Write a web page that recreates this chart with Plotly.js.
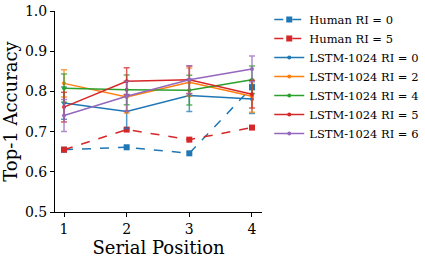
<!DOCTYPE html>
<html>
<head>
<meta charset="utf-8">
<script src="https://cdn.plot.ly/plotly-3.0.1.min.js"></script>
<style>html,body{margin:0;padding:0;background:#fff;}#chart{width:425px;height:259px;}</style>
</head>
<body>
<div id="chart"></div>
<script>
const positions = [1, 2, 3, 4];

const humanRI0 = [0.655, 0.661, 0.646, 0.810];
const humanRI5 = [0.655, 0.705, 0.680, 0.710];

const lstmRI0 = [0.771, 0.750, 0.790, 0.781];
const lstmRI0Err = [0.040, 0.042, 0.040, 0.036];
const lstmRI2 = [0.820, 0.786, 0.823, 0.788];
const lstmRI2Err = [0.034, 0.040, 0.035, 0.040];
const lstmRI4 = [0.808, 0.804, 0.803, 0.829];
const lstmRI4Err = [0.035, 0.037, 0.037, 0.034];
const lstmRI5 = [0.761, 0.825, 0.829, 0.793];
const lstmRI5Err = [0.037, 0.034, 0.034, 0.034];
const lstmRI6 = [0.740, 0.788, 0.829, 0.856];
const lstmRI6Err = [0.040, 0.037, 0.035, 0.032];

const seriesNames = ['Human RI = 0', 'Human RI = 5', 'LSTM-1024 RI = 0', 'LSTM-1024 RI = 2', 'LSTM-1024 RI = 4', 'LSTM-1024 RI = 5', 'LSTM-1024 RI = 6'];

const C = {blue:'#1f77b4', orange:'#ff7f0e', green:'#2ca02c', red:'#d62728', purple:'#9467bd'};
function rgba(hex, a){const n=parseInt(hex.slice(1),16);return `rgba(${n>>16},${(n>>8)&255},${n&255},${a})`;}

function human(y, name, color){
  return {x: positions, y: y, name: name, type:'scatter', mode:'lines+markers',
    line:{color:color, width:1.5, dash:'dash'},
    marker:{symbol:'square', size:6, color:color}};
}
function lstm(y, err, name, color){
  return {x: positions, y: y, name: name, type:'scatter', mode:'lines+markers',
    line:{color:color, width:1.5},
    marker:{symbol:'circle', size:4, color:color},
    error_y:{type:'data', array: err, visible:true, color: rgba(color,0.75), thickness:1.5, width:3}};
}

const data = [
  human(humanRI0, seriesNames[0], C.blue),
  human(humanRI5, seriesNames[1], C.red),
  lstm(lstmRI0, lstmRI0Err, seriesNames[2], C.blue),
  lstm(lstmRI2, lstmRI2Err, seriesNames[3], C.orange),
  lstm(lstmRI4, lstmRI4Err, seriesNames[4], C.green),
  lstm(lstmRI5, lstmRI5Err, seriesNames[5], C.red),
  lstm(lstmRI6, lstmRI6Err, seriesNames[6], C.purple)
];

const font = 'DejaVu Serif';
const layout = {
  width: 425, height: 259,
  margin: {l:55, r:163, t:11, b:47, pad:0, autoexpand:false},
  paper_bgcolor:'#fff', plot_bgcolor:'#fff',
  font: {family: font, color:'#000'},
  showlegend: true,
  legend: {x: 1.035, xanchor:'left', y: 1.03, yanchor:'top', font:{family:font, size:11.5, color:'#000'},
    bgcolor:'rgba(0,0,0,0)', tracegroupgap:0, itemwidth:30, maxheight:259},
  xaxis: {range:[0.856, 4.16], tickvals: positions, ticktext: ['1','2','3','4'],
    showgrid:false, zeroline:false, showline:true, linecolor:'#000', linewidth:1,
    ticks:'outside', ticklen:4, tickcolor:'#000', tickfont:{family:font, size:14},
    title:{text:'Serial Position', font:{family:font, size:18}, standoff:4}},
  yaxis: {range:[0.5, 1.0], tickvals:[0.5,0.6,0.7,0.8,0.9,1.0], ticktext:['0.5','0.6','0.7','0.8','0.9','1.0'],
    showgrid:false, zeroline:false, showline:true, linecolor:'#000', linewidth:1,
    ticks:'outside', ticklen:4, tickcolor:'#000', tickfont:{family:font, size:14},
    title:{text:'Top-1 Accuracy', font:{family:font, size:18}, standoff:6}}
};

Plotly.newPlot('chart', data, layout, {displayModeBar:false, staticPlot:true});
</script>
</body>
</html>
